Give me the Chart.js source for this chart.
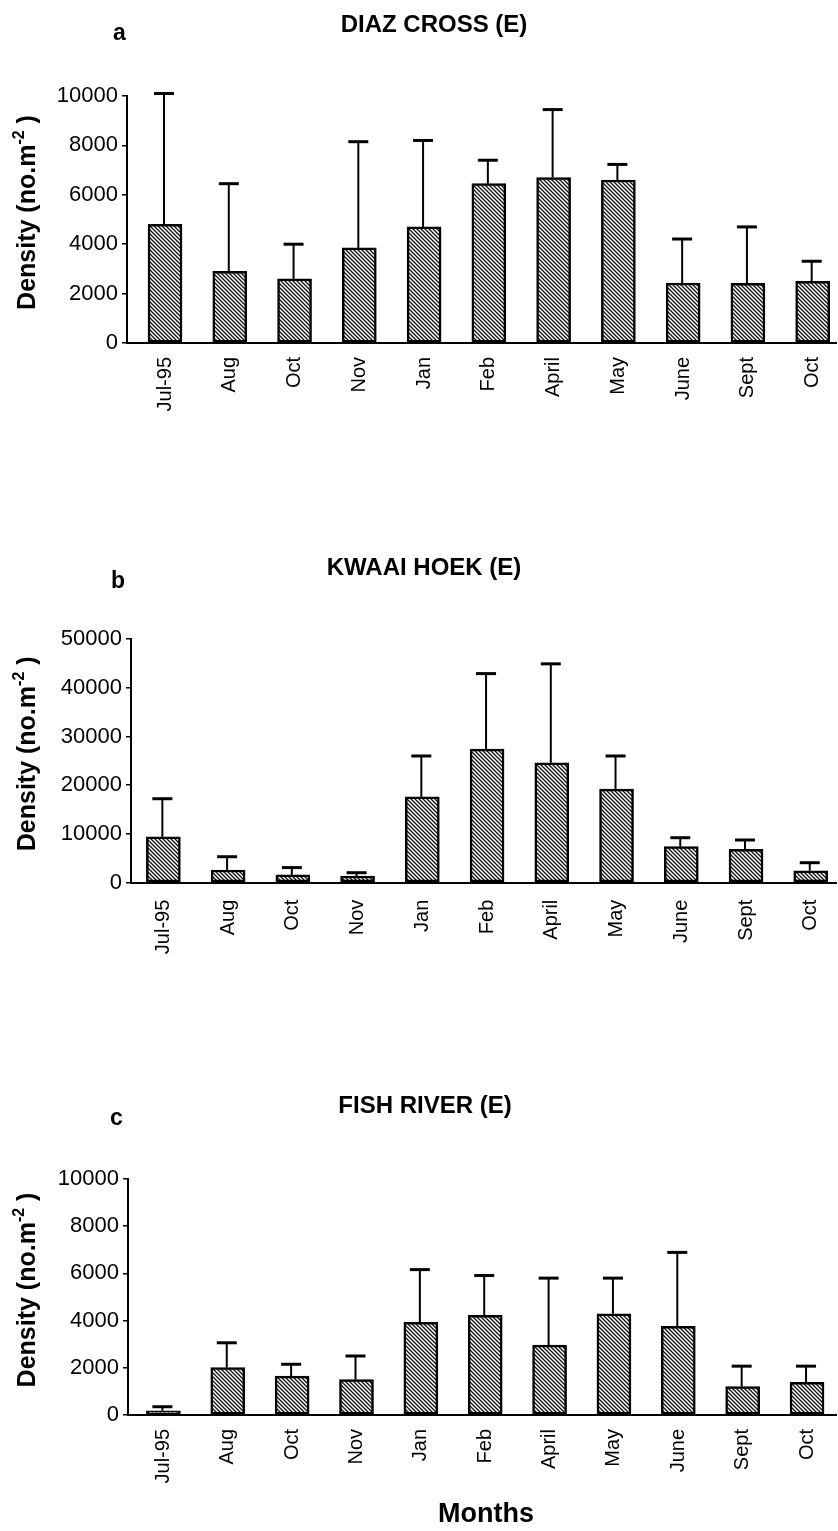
<!DOCTYPE html>
<html>
<head>
<meta charset="utf-8">
<script src="https://cdn.jsdelivr.net/npm/chart.js@4.4.1/dist/chart.umd.min.js"></script>
<style>
  html, body { margin: 0; padding: 0; background: #fff; }
  #wrap { position: relative; width: 838px; height: 1531px; overflow: hidden; }
  canvas { position: absolute; left: 0; }
</style>
</head>
<body>
<div id="wrap">
  <canvas id="panelA" width="838" height="480" style="top:0px"></canvas>
  <canvas id="panelB" width="838" height="520" style="top:500px"></canvas>
  <canvas id="panelC" width="838" height="511" style="top:1020px"></canvas>
</div>
<script>
// Sampling months (Jul-95 to Oct-96)
const months = ['Jul-95', 'Aug', 'Oct', 'Nov', 'Jan', 'Feb', 'April', 'May', 'June', 'Sept', 'Oct'];

// Mean density (no. m^-2) and upper standard deviation, per site
const diazMean = [4800, 2900, 2600, 3850, 4700, 6450, 6700, 6600, 2430, 2420, 2500];
const diazSD   = [5300, 3550, 1400, 4300, 3500,  950, 2750,  630, 1780, 2280,  810];

const kwaaiMean = [9400, 2600, 1600, 1370, 17600, 27400, 24600, 19200, 7400, 6850, 2460];
const kwaaiSD   = [7830, 2730, 1500,  680,  8400, 15500, 20300,  6800, 1830, 1910, 1640];

const fishMean = [180, 2010, 1650, 1500, 3930, 4220, 2960, 4290, 3760, 1200, 1380];
const fishSD   = [170, 1050,  500, 1000, 2230, 1690, 2840, 1510, 3130,  870,  690];

// Y-axis tick settings
const diazTicks  = { max: 10000, minor: 1000, major: 2000 };
const kwaaiTicks = { max: 50000, minor: 5000, major: 10000 };
const fishTicks  = { max: 10000, minor: 1000, major: 2000 };

const FONT = "'Liberation Sans', Arial, Helvetica, sans-serif";

// Diagonal hatch fill for the bars
function makeHatch() {
  const s = 4;
  const c = document.createElement('canvas');
  c.width = s; c.height = s;
  const g = c.getContext('2d');
  g.fillStyle = '#fff';
  g.fillRect(0, 0, s, s);
  g.strokeStyle = '#111';
  g.lineWidth = 1.3;
  g.beginPath();
  g.moveTo(-1, -1); g.lineTo(s + 1, s + 1);
  g.moveTo(-1, s - 1); g.lineTo(1, s + 1);
  g.moveTo(s - 1, -1); g.lineTo(s + 1, 1);
  g.stroke();
  return g.createPattern(c, 'repeat');
}
const hatch = makeHatch();

// Upper error bars (mean + SD) drawn with T caps
const errorBars = {
  id: 'errorBars',
  afterDatasetsDraw(chart, args, opts) {
    const { ctx, scales: { x, y } } = chart;
    ctx.save();
    ctx.strokeStyle = '#000';
    opts.mean.forEach((m, i) => {
      const px = x.getPixelForValue(i) - 1;
      const y0 = y.getPixelForValue(m);
      const y1 = y.getPixelForValue(m + opts.sd[i]);
      ctx.lineWidth = 2;
      ctx.beginPath();
      ctx.moveTo(px, y0);
      ctx.lineTo(px, y1);
      ctx.stroke();
      ctx.lineWidth = 3;
      ctx.beginPath();
      ctx.moveTo(px - 10, y1);
      ctx.lineTo(px + 10, y1);
      ctx.stroke();
    });
    ctx.restore();
  }
};

// Panel letter, site title, y-axis title and optional x-axis title
const panelText = {
  id: 'panelText',
  afterDraw(chart, args, o) {
    const ctx = chart.ctx;
    const area = chart.chartArea;
    ctx.save();
    ctx.fillStyle = '#000';
    ctx.textBaseline = 'alphabetic';

    ctx.font = 'bold 23px ' + FONT;
    ctx.textAlign = 'left';
    ctx.fillText(o.letter, o.letterX, o.letterY);

    ctx.font = 'bold 24px ' + FONT;
    ctx.textAlign = 'center';
    ctx.fillText(o.title, o.titleX, o.titleY);

    // rotated y-axis title with superscript
    const main = 'Density (no.m';
    const sup = '-2';
    const tail = ' )';
    const mainFont = 'bold 25px ' + FONT;
    const supFont = 'bold 16px ' + FONT;
    ctx.font = mainFont;
    const wMain = ctx.measureText(main).width;
    const wTail = ctx.measureText(tail).width;
    ctx.font = supFont;
    const wSup = ctx.measureText(sup).width;
    const total = wMain + wSup + wTail;
    const cy = (area.top + area.bottom) / 2 + o.yTitleShift;
    ctx.translate(o.yTitleX, cy);
    ctx.rotate(-Math.PI / 2);
    ctx.textAlign = 'left';
    ctx.textBaseline = 'alphabetic';
    let sx = -total / 2;
    ctx.font = mainFont;
    ctx.fillText(main, sx, 0);
    sx += wMain;
    ctx.font = supFont;
    ctx.fillText(sup, sx, -11);
    sx += wSup;
    ctx.font = mainFont;
    ctx.fillText(tail, sx, 0);
    ctx.setTransform(1, 0, 0, 1, 0, 0);

    if (o.xTitle) {
      ctx.font = 'bold 27px ' + FONT;
      ctx.textAlign = 'center';
      ctx.fillText(o.xTitle, o.xTitleX, o.xTitleY);
    }
    ctx.restore();
  }
};

function makePanel(id, mean, sd, ticks, p) {
  const points = mean.map((v, i) => ({ x: i, y: v }));
  return new Chart(document.getElementById(id), {
    type: 'bar',
    data: {
      datasets: [{
        data: points,
        backgroundColor: hatch,
        borderColor: '#000',
        borderWidth: 2.5,
        borderSkipped: false,
        barThickness: 34
      }]
    },
    plugins: [errorBars, panelText],
    options: {
      responsive: false,
      animation: false,
      devicePixelRatio: 1,
      layout: { autoPadding: false, padding: { top: p.padTop, right: 2, bottom: 0, left: 0 } },
      plugins: {
        legend: { display: false },
        tooltip: { enabled: false },
        title: { display: false },
        errorBars: { mean: mean, sd: sd },
        panelText: p.text
      },
      scales: {
        x: {
          type: 'linear',
          min: p.xMin,
          max: p.xMax,
          offset: false,
          grid: { display: false, drawTicks: false, offset: false },
          border: { display: true, color: '#000', width: 2 },
          afterBuildTicks: s => { s.ticks = months.map((_, i) => ({ value: i })); },
          afterFit: s => { s.height = p.xHeight; s.paddingLeft = 0; s.paddingRight = 0; },
          ticks: {
            autoSkip: false,
            minRotation: 90,
            maxRotation: 90,
            padding: p.labelPad,
            color: '#000',
            font: { family: FONT, size: 20 },
            callback: v => months[v]
          }
        },
        y: {
          min: 0,
          max: ticks.max,
          grid: { display: true, drawOnChartArea: false, drawTicks: true, tickLength: 5, color: '#000', lineWidth: 1.5 },
          border: { display: true, color: '#000', width: 2 },
          afterFit: s => { s.width = p.yWidth; s.paddingTop = 0; s.paddingBottom = 0; },
          ticks: {
            stepSize: ticks.minor,
            padding: 4,
            color: '#000',
            font: { family: FONT, size: 22 },
            callback: v => (v % ticks.major === 0 ? String(v) : '')
          }
        }
      }
    }
  });
}

makePanel('panelA', diazMean, diazSD, diazTicks, {
  padTop: 96, xHeight: 137, yWidth: 127, xMin: -0.587, xMax: 10.36, labelPad: 14,
  text: { letter: 'a', letterX: 113, letterY: 40, title: 'DIAZ CROSS (E)', titleX: 434, titleY: 32,
          yTitleX: 35, yTitleShift: -7 }
});

makePanel('panelB', kwaaiMean, kwaaiSD, kwaaiTicks, {
  padTop: 139, xHeight: 137.3, yWidth: 131, xMin: -0.5, xMax: 10.39, labelPad: 17,
  text: { letter: 'b', letterX: 111, letterY: 88, title: 'KWAAI HOEK (E)', titleX: 424, titleY: 75,
          yTitleX: 35, yTitleShift: -7 }
});

makePanel('panelC', fishMean, fishSD, fishTicks, {
  padTop: 159, xHeight: 116, yWidth: 128, xMin: -0.55, xMax: 10.45, labelPad: 14,
  text: { letter: 'c', letterX: 110, letterY: 105, title: 'FISH RIVER (E)', titleX: 425, titleY: 93,
          yTitleX: 35, yTitleShift: -7, xTitle: 'Months', xTitleX: 486, xTitleY: 502 }
});
</script>
</body>
</html>
